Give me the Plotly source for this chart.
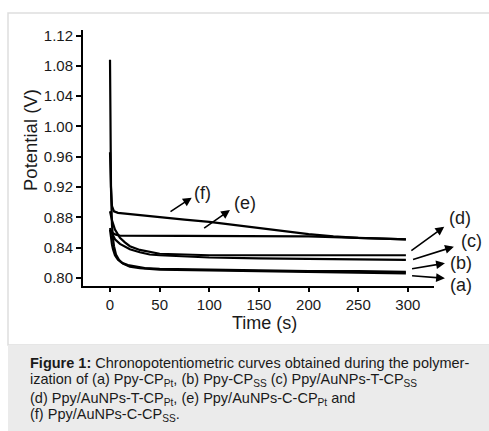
import plotly.graph_objects as go

# ---- data ----
t_a = [0, 0.5, 1, 2, 3, 4, 6, 9, 13, 20, 30, 50, 100, 150, 200, 250, 298]
v_a = [0.966, 0.93, 0.90, 0.87, 0.852, 0.842, 0.831, 0.824, 0.819, 0.815, 0.813, 0.811, 0.810, 0.809, 0.808, 0.807, 0.806]

t_b = [0, 1, 2, 3, 5, 8, 12, 18, 25, 35, 50, 100, 150, 200, 250, 298]
v_b = [0.864, 0.852, 0.844, 0.838, 0.830, 0.824, 0.820, 0.817, 0.815, 0.813, 0.812, 0.811, 0.810, 0.809, 0.809, 0.808]

t_c = [0, 2, 5, 10, 15, 20, 30, 40, 50, 75, 100, 150, 200, 250, 298]
v_c = [0.864, 0.858, 0.851, 0.845, 0.841, 0.838, 0.834, 0.831, 0.830, 0.828, 0.827, 0.826, 0.825, 0.824, 0.824]

t_d = [0, 2, 5, 10, 15, 20, 30, 40, 50, 75, 100, 150, 200, 250, 298]
v_d = [0.888, 0.876, 0.864, 0.853, 0.847, 0.842, 0.837, 0.834, 0.832, 0.831, 0.830, 0.830, 0.830, 0.830, 0.830]

t_e = [0, 1, 3, 6, 10, 25, 50, 100, 150, 200, 225, 250, 275, 298]
v_e = [0.866, 0.862, 0.859, 0.857, 0.856, 0.856, 0.856, 0.856, 0.856, 0.855, 0.854, 0.853, 0.852, 0.851]

t_f = [0, 0.5, 1, 2, 4, 8, 15, 25, 50, 75, 100, 125, 150, 175, 200, 225, 250, 275, 298]
v_f = [1.088, 0.96, 0.92, 0.895, 0.888, 0.886, 0.885, 0.884, 0.880, 0.877, 0.874, 0.870, 0.866, 0.862, 0.858, 0.855, 0.853, 0.852, 0.851]

series = [("a", t_a, v_a), ("b", t_b, v_b), ("c", t_c, v_c),
          ("d", t_d, v_d), ("e", t_e, v_e), ("f", t_f, v_f)]

x_ticks = [0, 50, 100, 150, 200, 250, 300]
y_ticks = [0.80, 0.84, 0.88, 0.92, 0.96, 1.00, 1.04, 1.08, 1.12]

# label arrows: (label, tail_t, tail_v, head_t, head_v, text_t, text_v)
arrows = [
    ("(f)", 59.4, 0.8862, 82.3, 0.906, 93.5, 0.912),
    ("(e)", 93.3, 0.8643, 120.8, 0.8898, 135.5, 0.899),
    ("(d)", 302.0, 0.8347, 336.6, 0.8677, 352.5, 0.879),
    ("(c)", 303.7, 0.8238, 346.3, 0.8413, 364.0, 0.8488),
    ("(b)", 302.7, 0.8119, 337.3, 0.8194, 353.0, 0.8198),
    ("(a)", 302.7, 0.8030, 337.3, 0.7996, 353.0, 0.7908),
]

X_RANGE = [-27.2, 326.3]
Y_RANGE = [0.7894, 1.1274]

W, H = 489, 431
L, R, T, B = 83, 55, 30, 145
PW, PH = W - L - R, H - T - B


def px(xpix):
    return (xpix - L) / PW


def py(ypix):
    return (H - B - ypix) / PH


def dx(t):
    return (t - X_RANGE[0]) / (X_RANGE[1] - X_RANGE[0])


def dy(v):
    return (v - Y_RANGE[0]) / (Y_RANGE[1] - Y_RANGE[0])


fig = go.Figure()
for name, t, v in series:
    fig.add_trace(go.Scatter(x=t, y=v, mode="lines", name=name,
                             line=dict(color="black", width=2.2),
                             showlegend=False))

FONT = "Liberation Sans, Arial, sans-serif"
TXT = "#1a1a1a"
fig.update_layout(
    width=W, height=H,
    margin=dict(l=L, r=R, t=T, b=B, pad=0),
    paper_bgcolor="white", plot_bgcolor="white",
    font=dict(family=FONT, color=TXT, size=15),
    xaxis=dict(range=X_RANGE, tickvals=x_ticks, showgrid=False,
               zeroline=False, showline=True, linecolor="black", linewidth=2,
               ticks="outside", ticklen=4, tickwidth=2, tickcolor="black",
               tickfont=dict(size=15, family=FONT, color=TXT)),
    yaxis=dict(range=Y_RANGE, tickvals=y_ticks,
               ticktext=[f"{v:.2f}" for v in y_ticks], showgrid=False,
               zeroline=False, showline=True, linecolor="black", linewidth=2,
               ticks="outside", ticklen=5, tickwidth=2, tickcolor="black",
               tickfont=dict(size=15, family=FONT, color=TXT)),
)

shapes = [
    dict(type="rect", xref="paper", yref="paper", x0=px(8), x1=px(495),
         y0=py(345), y1=py(13), line=dict(color="#dedede", width=1.5),
         fillcolor="rgba(0,0,0,0)", layer="below"),
    dict(type="rect", xref="paper", yref="paper", x0=px(8), x1=px(495),
         y0=py(440), y1=py(345), line=dict(width=0), fillcolor="#ebebeb",
         layer="below"),
]
fig.update_layout(shapes=shapes)

ann = []
for lab, tx, tv, hx, hv, lx, lv in arrows:
    ann.append(dict(x=hx, y=hv, ax=tx, ay=tv, xref="x", yref="y",
                    axref="x", ayref="y", text="", showarrow=True,
                    arrowhead=2, arrowsize=1.1, arrowwidth=1.6,
                    arrowcolor="black", standoff=0, startstandoff=0))
    ann.append(dict(x=dx(lx), y=dy(lv), xref="paper", yref="paper", text=lab,
                    showarrow=False, font=dict(size=18, family=FONT, color=TXT),
                    xanchor="center", yanchor="middle"))

ann.append(dict(x=px(30), y=py(140), xref="paper", yref="paper",
                text="Potential (V)", textangle=-90, showarrow=False,
                font=dict(size=18.5, family=FONT, color=TXT),
                xanchor="center", yanchor="middle"))
ann.append(dict(x=px(264), y=py(323), xref="paper", yref="paper",
                text="Time (s)", showarrow=False,
                font=dict(size=18, family=FONT, color=TXT),
                xanchor="center", yanchor="middle"))

caption = [
    "<b>Figure 1:</b> Chronopotentiometric curves obtained during the polymer-",
    "ization of (a) Ppy-CP<sub>Pt</sub>, (b) Ppy-CP<sub>SS</sub> (c) Ppy/AuNPs-T-CP<sub>SS</sub>",
    "(d) Ppy/AuNPs-T-CP<sub>Pt</sub>, (e) Ppy/AuNPs-C-CP<sub>Pt</sub> and",
    "(f) Ppy/AuNPs-C-CP<sub>SS</sub>.",
]
caption_y = [362.5, 380, 398.5, 415]
for line, yy in zip(caption, caption_y):
    ann.append(dict(x=px(28), y=py(yy), xref="paper", yref="paper",
                    text=line, showarrow=False, xanchor="left", yanchor="middle",
                    font=dict(size=14.5, family=FONT, color=TXT)))

fig.update_layout(annotations=ann)
fig.write_html("out.html")
